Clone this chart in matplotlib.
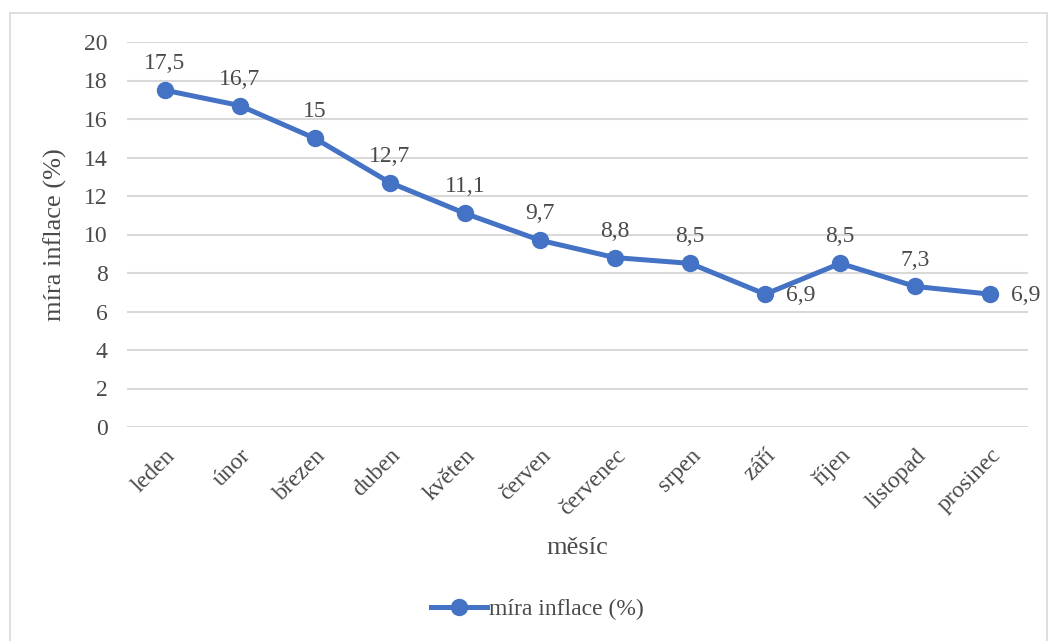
import matplotlib
matplotlib.use("Agg")
import matplotlib.pyplot as plt
from matplotlib.patches import Rectangle
from matplotlib.lines import Line2D

months = ["leden", "únor", "březen", "duben", "květen", "červen",
          "červenec", "srpen", "září", "říjen", "listopad", "prosinec"]
inflation = [17.5, 16.7, 15.0, 12.7, 11.1, 9.7, 8.8, 8.5, 6.9, 8.5, 7.3, 6.9]
label_side = ["top"] * 8 + ["right", "top", "top", "right"]
yticks = [0, 2, 4, 6, 8, 10, 12, 14, 16, 18, 20]

plt.rcParams['font.family'] = ['Liberation Serif', 'DejaVu Serif']
text_color = "#4a4a4a"
line_color = "#4472C4"

W, H = 1048, 641
fig = plt.figure(figsize=(W / 100, H / 100), dpi=100)
fig.patch.set_facecolor("white")

# chart border
fig.patches.append(Rectangle((10 / W, -0.01), (W - 11) / W, 1 - 13 / H + 0.01,
                             transform=fig.transFigure, fill=False,
                             edgecolor="#D9D9D9", linewidth=1.2))

ax = fig.add_axes([127 / W, 1 - 427 / H, (1028 - 127) / W, (427 - 42) / H])
x = list(range(len(months)))
ax.plot(x, inflation, color=line_color, linewidth=3.6, marker="o",
        markersize=11.5, solid_capstyle="round", zorder=3)

ax.set_xlim(-0.5, len(months) - 0.5)
ax.set_ylim(0, 20)
ax.set_yticks(yticks)
ax.set_yticklabels([str(t) for t in yticks])
ax.set_xticks(x)
ax.set_xticklabels(months, rotation=45, ha="right", rotation_mode="anchor")
ax.grid(axis="y", color="#D9D9D9", linewidth=1.5)
ax.set_axisbelow(True)
for s in ax.spines.values():
    s.set_visible(False)
ax.tick_params(axis="both", length=0, labelsize=17, colors=text_color)
ax.tick_params(axis="y", pad=14)
ax.tick_params(axis="x", pad=13)

for xi, v, side in zip(x, inflation, label_side):
    txt = f"{v:g}".replace(".", ",")
    if side == "top":
        ax.annotate(txt, (xi, v), xytext=(0, 19), textcoords="offset points",
                    ha="center", va="center", fontsize=17, color=text_color)
    else:
        ax.annotate(txt, (xi, v), xytext=(15, -1), textcoords="offset points",
                    ha="left", va="center", fontsize=17, color=text_color)

ax.set_ylabel("míra inflace (%)", fontsize=19, color=text_color, labelpad=12)
fig.text(577 / W, 1 - 548 / H, "měsíc", fontsize=19, color=text_color,
         ha="center", va="center")

handle = Line2D([], [], color=line_color, linewidth=3.6, marker="o", markersize=11.5)
fig.legend([handle], ["míra inflace (%)"], loc="center",
           bbox_to_anchor=(537 / W, 1 - 609 / H), frameon=False, fontsize=17,
           handlelength=2.4, handletextpad=0.05, labelcolor=text_color)

fig.savefig("out.png", dpi=100)
